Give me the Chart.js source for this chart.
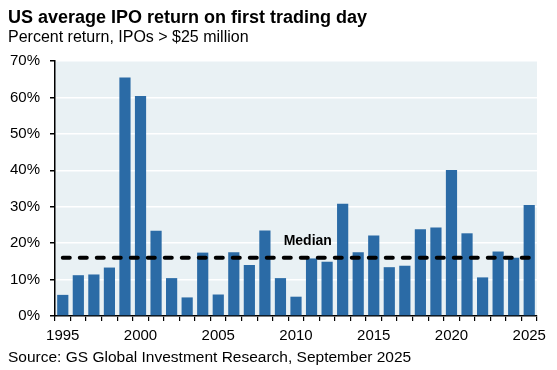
<!DOCTYPE html>
<html>
<head>
<meta charset="utf-8">
<script src="https://cdn.jsdelivr.net/npm/chart.js@4"></script>
<style>
    html, body { margin: 0; padding: 0; background: #fff; }
    #wrap { width: 557px; height: 370px; position: relative; }
</style>
</head>
<body>
<div id="wrap"><canvas id="chart" width="557" height="370"></canvas></div>
<script>
const years = ['1995', '1996', '1997', '1998', '1999', '2000', '2001', '2002', '2003', '2004',
    '2005', '2006', '2007', '2008', '2009', '2010', '2011', '2012', '2013', '2014',
    '2015', '2016', '2017', '2018', '2019', '2020', '2021', '2022', '2023', '2024', '2025'];
const ipoReturns = [5.8, 11.2, 11.4, 13.3, 65.5, 60.4, 23.4, 10.4, 5.1, 17.4,
    5.9, 17.5, 14.0, 23.5, 10.4, 5.3, 15.8, 14.9, 30.8, 17.5,
    22.1, 13.4, 13.8, 23.8, 24.3, 40.1, 22.7, 10.6, 17.7, 16.0, 30.5];
const medianReturn = 16.0;
const medianLine = years.map(() => medianReturn);
const yTicks = [0, 10, 20, 30, 40, 50, 60, 70];

const FONT = '"Liberation Sans", Arial, sans-serif';

// title, subtitle, source, plot background and median label
const decor = {
    id: 'decor',
    beforeDraw(chart) {
        const { ctx, chartArea: a } = chart;
        ctx.save();
        ctx.fillStyle = '#e9f1f4';
        ctx.fillRect(a.left, a.top, a.right - a.left, a.bottom - a.top);
        ctx.restore();
    },
    afterDraw(chart) {
        const { ctx } = chart;
        const x = chart.scales.x, y = chart.scales.y;
        ctx.save();
        ctx.fillStyle = '#000';
        ctx.textBaseline = 'alphabetic';
        ctx.textAlign = 'left';
        ctx.font = 'bold 18px ' + FONT;
        ctx.fillText('US average IPO return on first trading day', 8, 23);
        ctx.font = '16px ' + FONT;
        ctx.fillText('Percent return, IPOs > $25 million', 8, 42);
        ctx.font = '15.5px ' + FONT;
        ctx.fillText('Source: GS Global Investment Research, September 2025', 8, 362);

        ctx.font = 'bold 14px ' + FONT;
        ctx.textAlign = 'center';
        ctx.textBaseline = 'middle';
        const mx = (x.getPixelForValue(years.indexOf('2010')) + x.getPixelForValue(years.indexOf('2011'))) / 2 + 4;
        ctx.fillText('Median', mx, y.getPixelForValue(medianReturn) - 17);
        ctx.restore();
    }
};

new Chart(document.getElementById('chart').getContext('2d'), {
    type: 'bar',
    data: {
        labels: years,
        datasets: [
            {
                type: 'line',
                label: 'Median',
                data: medianLine,
                borderColor: '#000',
                borderWidth: 4,
                borderDash: [7, 10],
                borderCapStyle: 'round',
                pointRadius: 0,
                fill: false,
                order: 0
            },
            {
                label: 'Average first-day return',
                data: ipoReturns,
                backgroundColor: '#2b6ba6',
                barPercentage: 0.72,
                categoryPercentage: 1,
                order: 1
            }
        ]
    },
    options: {
        responsive: false,
        animation: false,
        layout: { padding: { top: 61, right: 20, bottom: 24, left: 0 } },
        plugins: {
            legend: { display: false },
            tooltip: { enabled: false }
        },
        scales: {
            x: {
                offset: true,
                afterFit(scale) { scale.height = 30; },
                grid: { drawOnChartArea: false, tickColor: '#000', tickLength: 5, lineWidth: 1.2, offset: true },
                border: { color: '#000', width: 1.5 },
                ticks: {
                    autoSkip: false,
                    maxRotation: 0,
                    padding: 6,
                    color: '#000',
                    font: { family: FONT, size: 15 },
                    callback(v) { const yr = years[v]; return Number(yr) % 5 === 0 ? yr : ''; }
                }
            },
            y: {
                min: 0,
                max: 70,
                afterFit(scale) { scale.width = 55; },
                afterBuildTicks(scale) { scale.ticks = yTicks.map(v => ({ value: v })); },
                grid: { color: '#fff', lineWidth: 1.5, tickColor: '#000', tickLength: 5 },
                border: { color: '#000', width: 1.5 },
                ticks: {
                    padding: 10,
                    color: '#000',
                    font: { family: FONT, size: 15 },
                    callback(v) { return v + '%'; }
                }
            }
        }
    },
    plugins: [decor]
});
</script>
</body>
</html>
